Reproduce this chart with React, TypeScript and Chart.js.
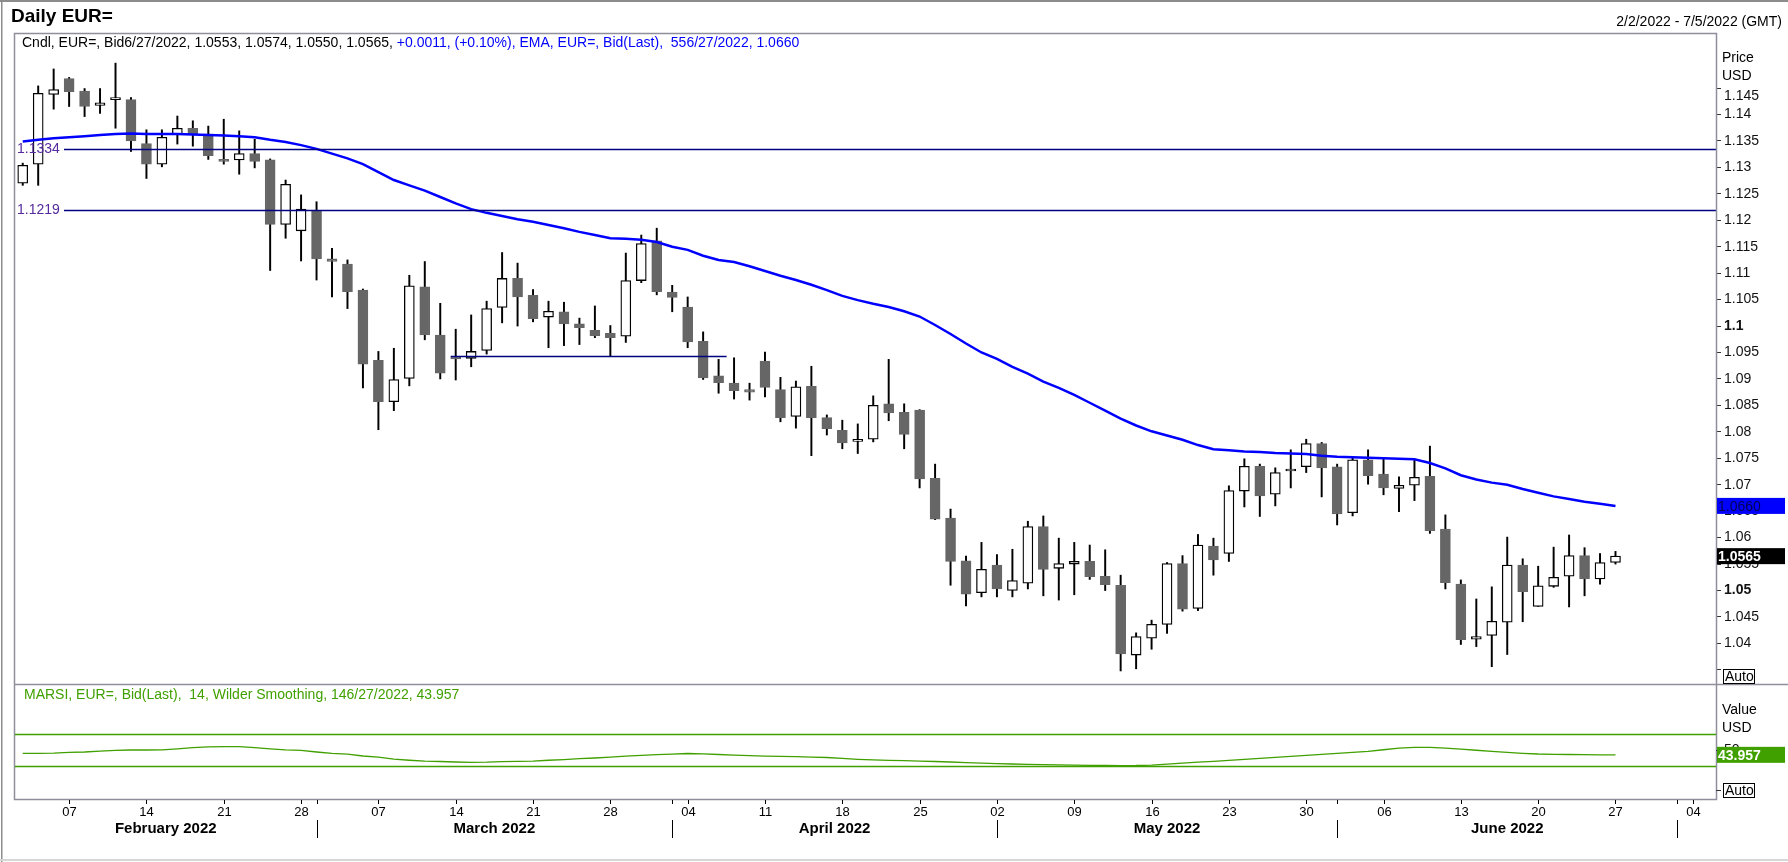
import { useEffect, useRef } from 'react';
import { Chart, registerables } from 'chart.js';

Chart.register(...registerables);

const W = 1788;
const H = 862;
const FONT = 'Arial, "Liberation Sans", sans-serif';

// layout of the panels (pixels)
const PLOT_LEFT = 15;
const PLOT_TOP = 33;
const SPLIT_Y = 684;
const PLOT_BOTTOM = 799;
const AXIS_W = 72;

// trading days shown on the axis
const dates = [
  '2022-02-02', '2022-02-03', '2022-02-04', '2022-02-07', '2022-02-08', '2022-02-09', '2022-02-10', '2022-02-11',
  '2022-02-14', '2022-02-15', '2022-02-16', '2022-02-17', '2022-02-18', '2022-02-21', '2022-02-22', '2022-02-23',
  '2022-02-24', '2022-02-25', '2022-02-28',
  '2022-03-01', '2022-03-02', '2022-03-03', '2022-03-04', '2022-03-07', '2022-03-08', '2022-03-09', '2022-03-10',
  '2022-03-11', '2022-03-14', '2022-03-15', '2022-03-16', '2022-03-17', '2022-03-18', '2022-03-21', '2022-03-22',
  '2022-03-23', '2022-03-24', '2022-03-25', '2022-03-28', '2022-03-29', '2022-03-30', '2022-03-31',
  '2022-04-01', '2022-04-04', '2022-04-05', '2022-04-06', '2022-04-07', '2022-04-08', '2022-04-11', '2022-04-12',
  '2022-04-13', '2022-04-14', '2022-04-15', '2022-04-18', '2022-04-19', '2022-04-20', '2022-04-21', '2022-04-22',
  '2022-04-25', '2022-04-26', '2022-04-27', '2022-04-28', '2022-04-29',
  '2022-05-02', '2022-05-03', '2022-05-04', '2022-05-05', '2022-05-06', '2022-05-09', '2022-05-10', '2022-05-11',
  '2022-05-12', '2022-05-13', '2022-05-16', '2022-05-17', '2022-05-18', '2022-05-19', '2022-05-20', '2022-05-23',
  '2022-05-24', '2022-05-25', '2022-05-26', '2022-05-27', '2022-05-30', '2022-05-31',
  '2022-06-01', '2022-06-02', '2022-06-03', '2022-06-06', '2022-06-07', '2022-06-08', '2022-06-09', '2022-06-10',
  '2022-06-13', '2022-06-14', '2022-06-15', '2022-06-16', '2022-06-17', '2022-06-20', '2022-06-21', '2022-06-22',
  '2022-06-23', '2022-06-24', '2022-06-27', '2022-06-28', '2022-06-29', '2022-06-30',
  '2022-07-01', '2022-07-04', '2022-07-05',
];

const opens = [
  1.1270, 1.1306, 1.1438, 1.1468, 1.1444, 1.1417, 1.1428, 1.1428, 1.1345, 1.1306,
  1.1363, 1.1374, 1.1363, 1.1315, 1.1314, 1.1326, 1.1314, 1.1192, 1.1180, 1.1217,
  1.1127, 1.1117, 1.1068, 1.0935, 1.0857, 1.0901, 1.1074, 1.0983, 1.0942, 1.0939,
  1.0954, 1.1035, 1.1090, 1.1058, 1.1017, 1.1027, 1.1004, 1.0992, 1.0986, 1.0981,
  1.1086, 1.1161, 1.1064, 1.1036, 1.0971, 1.0906, 1.0892, 1.0880, 1.0934, 1.0880,
  1.0829, 1.0886, 1.0827, 1.0803, 1.0782, 1.0786, 1.0853, 1.0837, 1.0841, 1.0712,
  1.0637, 1.0556, 1.0496, 1.0548, 1.0500, 1.0514, 1.0621, 1.0542, 1.0550, 1.0555,
  1.0527, 1.0510, 1.0378, 1.0410, 1.0436, 1.0551, 1.0466, 1.0584, 1.0570, 1.0688,
  1.0735, 1.0682, 1.0726, 1.0734, 1.0778, 1.0734, 1.0647, 1.0747, 1.0720, 1.0693,
  1.0699, 1.0716, 1.0616, 1.0512, 1.0408, 1.0415, 1.0440, 1.0548, 1.0470, 1.0508,
  1.0527, 1.0566, 1.0522, 1.0553,
];

const highs = [
  1.1308, 1.1454, 1.1486, 1.1470, 1.1449, 1.1449, 1.1497, 1.1432, 1.1371, 1.1371,
  1.1397, 1.1388, 1.1378, 1.1391, 1.1369, 1.1353, 1.1316, 1.1276, 1.1248, 1.1235,
  1.1147, 1.1125, 1.1070, 1.0952, 1.0958, 1.1096, 1.1122, 1.1043, 1.0994, 1.1021,
  1.1047, 1.1139, 1.1119, 1.1069, 1.1047, 1.1045, 1.1015, 1.1038, 1.1001, 1.1138,
  1.1172, 1.1185, 1.1077, 1.1055, 1.0989, 1.0937, 1.0940, 1.0892, 1.0951, 1.0903,
  1.0896, 1.0924, 1.0832, 1.0822, 1.0815, 1.0868, 1.0937, 1.0853, 1.0842, 1.0739,
  1.0654, 1.0565, 1.0591, 1.0568, 1.0578, 1.0631, 1.0641, 1.0599, 1.0591, 1.0586,
  1.0577, 1.0529, 1.0420, 1.0444, 1.0553, 1.0566, 1.0606, 1.0599, 1.0698, 1.0749,
  1.0739, 1.0732, 1.0766, 1.0786, 1.0780, 1.0739, 1.0753, 1.0766, 1.0750, 1.0715,
  1.0747, 1.0773, 1.0643, 1.0520, 1.0484, 1.0507, 1.0601, 1.0560, 1.0546, 1.0582,
  1.0605, 1.0581, 1.0570, 1.0574,
];

const lows = [
  1.1266, 1.1266, 1.1410, 1.1415, 1.1396, 1.1402, 1.1374, 1.1330, 1.1279, 1.1301,
  1.1344, 1.1340, 1.1315, 1.1306, 1.1287, 1.1299, 1.1105, 1.1166, 1.1123, 1.1087,
  1.1055, 1.1033, 1.0883, 1.0804, 1.0840, 1.0887, 1.0974, 1.0900, 1.0898, 1.0923,
  1.0947, 1.1006, 1.1000, 1.1008, 1.0959, 1.0963, 1.0965, 1.0978, 1.0943, 1.0969,
  1.1082, 1.1059, 1.1027, 1.0959, 1.0899, 1.0873, 1.0862, 1.0860, 1.0866, 1.0819,
  1.0807, 1.0755, 1.0794, 1.0768, 1.0759, 1.0781, 1.0821, 1.0768, 1.0694, 1.0634,
  1.0510, 1.0471, 1.0488, 1.0488, 1.0488, 1.0503, 1.0490, 1.0482, 1.0492, 1.0521,
  1.0500, 1.0348, 1.0352, 1.0389, 1.0419, 1.0461, 1.0462, 1.0529, 1.0555, 1.0658,
  1.0640, 1.0660, 1.0694, 1.0723, 1.0677, 1.0624, 1.0641, 1.0701, 1.0681, 1.0649,
  1.0670, 1.0608, 1.0503, 1.0398, 1.0394, 1.0356, 1.0379, 1.0441, 1.0470, 1.0506,
  1.0469, 1.0490, 1.0512, 1.0550,
];

const closes = [
  1.1304, 1.1440, 1.1447, 1.1443, 1.1415, 1.1422, 1.1429, 1.1350, 1.1306, 1.1357,
  1.1374, 1.1363, 1.1322, 1.1311, 1.1326, 1.1311, 1.1192, 1.1268, 1.1221, 1.1127,
  1.1122, 1.1065, 1.0928, 1.0857, 1.0899, 1.1076, 1.0983, 1.0911, 1.0938, 1.0952,
  1.1033, 1.1090, 1.1055, 1.1014, 1.1028, 1.1004, 1.0997, 1.0982, 1.0978, 1.1086,
  1.1156, 1.1065, 1.1054, 1.0970, 1.0902, 1.0893, 1.0878, 1.0875, 1.0884, 1.0827,
  1.0885, 1.0827, 1.0806, 1.0779, 1.0786, 1.0850, 1.0836, 1.0795, 1.0711, 1.0635,
  1.0555, 1.0493, 1.0540, 1.0503, 1.0519, 1.0621, 1.0540, 1.0551, 1.0555, 1.0526,
  1.0511, 1.0380, 1.0413, 1.0436, 1.0551, 1.0465, 1.0586, 1.0558, 1.0689, 1.0735,
  1.0679, 1.0723, 1.0727, 1.0778, 1.0732, 1.0645, 1.0747, 1.0717, 1.0694, 1.0699,
  1.0714, 1.0613, 1.0515, 1.0407, 1.0413, 1.0442, 1.0548, 1.0498, 1.0509, 1.0525,
  1.0566, 1.0522, 1.0553, 1.0565,
];

// 55-day EMA
const emaValues = [
  1.1349, 1.1352, 1.1355, 1.1357, 1.1359, 1.1361, 1.1363, 1.1364, 1.1363, 1.1363,
  1.1363, 1.1362, 1.1361, 1.1360, 1.1359, 1.1357, 1.1352, 1.1348, 1.1342, 1.1335,
  1.1326, 1.1317, 1.1306, 1.1291, 1.1276, 1.1266, 1.1256, 1.1244, 1.1232, 1.1221,
  1.1214, 1.1208, 1.1202, 1.1197, 1.1191, 1.1185, 1.1178, 1.1172, 1.1166, 1.1165,
  1.1163, 1.1159, 1.1150, 1.1144, 1.1133, 1.1125, 1.1121, 1.1113, 1.1104, 1.1095,
  1.1087, 1.1078, 1.1068, 1.1057, 1.1049, 1.1042, 1.1036, 1.1028, 1.1018, 1.1002,
  1.0985, 1.0967, 1.0950, 1.0938, 1.0923, 1.0910, 1.0895, 1.0883, 1.0870, 1.0855,
  1.0840, 1.0825, 1.0812, 1.0801, 1.0793, 1.0785, 1.0775, 1.0767, 1.0765, 1.0763,
  1.0762, 1.0760, 1.0759, 1.0758, 1.0755, 1.0753, 1.0752, 1.0751, 1.0750, 1.0749,
  1.0748, 1.0741, 1.0731, 1.0718, 1.0710, 1.0704, 1.0700, 1.0692, 1.0685, 1.0678,
  1.0673, 1.0668, 1.0664, 1.0660,
];

// MA RSI (14, Wilder)
const rsiValues = [
  45.9, 45.9, 46.2, 47.0, 47.5, 48.5, 49.5, 50.0, 50.0, 50.2,
  51.5, 53.0, 54.0, 54.2, 54.2, 53.0, 51.5, 50.2, 49.5, 47.5,
  45.8, 44.8, 42.5, 41.0, 38.5, 37.2, 36.0, 35.6, 35.0, 34.6,
  34.8, 35.5, 35.8, 36.2, 37.2, 38.0, 39.2, 40.0, 41.2, 42.4,
  43.3, 44.2, 44.8, 45.6, 45.2, 44.4, 43.6, 43.0, 42.4, 42.1,
  41.8, 41.1, 40.6, 39.6, 38.4, 37.6, 37.1, 36.8, 36.1, 35.6,
  35.0, 34.3, 33.6, 33.0, 32.5, 32.0, 31.6, 31.3, 31.0, 30.8,
  30.6, 30.5, 30.6, 31.2, 32.3, 33.6, 34.9, 35.9, 37.1, 38.3,
  39.6, 40.8, 42.1, 43.3, 44.6, 45.8, 47.1, 48.4, 50.3, 52.4,
  53.3, 53.4, 52.4, 51.0, 49.7, 48.4, 47.1, 45.9, 45.0, 44.6,
  44.4, 44.2, 44.0, 43.957,
];

const priceTicks = [
  1.035, 1.04, 1.045, 1.05, 1.055, 1.06, 1.065, 1.07, 1.075, 1.08, 1.085, 1.09,
  1.095, 1.1, 1.105, 1.11, 1.115, 1.12, 1.125, 1.13, 1.135, 1.14, 1.145,
];
const boldTicks = [1.05, 1.1];
const priceRange = [1.03233, 1.1554];
const rsiTicks = [0, 50];
const rsiBands = [70, 30];
const rsiRange = [-11.25, 132.5];
const levelLines = [1.1334, 1.1219];
const shortLevel = 1.0943;
const shortLevelDates = ['2022-03-14', '2022-04-06'];
const monthNames = [
  'January', 'February', 'March', 'April', 'May', 'June',
  'July', 'August', 'September', 'October', 'November', 'December',
];

const TITLE = 'Daily EUR=';
const RANGE_TEXT = '2/2/2022 - 7/5/2022 (GMT)';
const LEGEND_BLACK = 'Cndl, EUR=, Bid6/27/2022, 1.0553, 1.0574, 1.0550, 1.0565, ';
const LEGEND_BLUE = '+0.0011, (+0.10%), EMA, EUR=, Bid(Last),  556/27/2022, 1.0660';
const RSI_LEGEND = 'MARSI, EUR=, Bid(Last),  14, Wilder Smoothing, 146/27/2022, 43.957';

const GREEN = '#40a000';
const FRAME = '#8e8e9c';

function txt(c: CanvasRenderingContext2D, s: string, x: number, y: number, font: string, color: string, align: CanvasTextAlign = 'left') {
  c.font = font;
  c.fillStyle = color;
  c.textAlign = align;
  c.textBaseline = 'middle';
  c.fillText(s, x, y);
}

function hline(c: CanvasRenderingContext2D, x0: number, x1: number, y: number) {
  c.beginPath();
  c.moveTo(x0, y);
  c.lineTo(x1, y);
  c.stroke();
}

function vline(c: CanvasRenderingContext2D, x: number, y0: number, y1: number) {
  c.beginPath();
  c.moveTo(x, y0);
  c.lineTo(x, y1);
  c.stroke();
}

const pricePlugin = {
  id: 'priceDecor',
  beforeDraw(chart: any) {
    const c = chart.ctx;
    c.save();
    c.fillStyle = '#ffffff';
    c.fillRect(0, 0, W, H);
    c.restore();
  },
  afterDatasetsDraw(chart: any) {
    const c = chart.ctx;
    const xs = chart.scales.x;
    const ys = chart.scales.y;
    const a = chart.chartArea;
    c.save();
    c.strokeStyle = '#000080';
    c.lineWidth = 1.3;
    levelLines.forEach((v) => {
      const y = Math.round(ys.getPixelForValue(v)) + 0.5;
      hline(c, a.left + 49, a.right, y);
      txt(c, v.toFixed(4), a.left + 2, y, `14px ${FONT}`, '#552a9e');
    });
    const x0 = xs.getPixelForValue(dates.indexOf(shortLevelDates[0])) - 5;
    const x1 = xs.getPixelForValue(dates.indexOf(shortLevelDates[1])) + 8;
    hline(c, x0, x1, Math.round(ys.getPixelForValue(shortLevel)) + 0.5);
    c.restore();
  },
  afterDraw(chart: any) {
    const c = chart.ctx;
    const ys = chart.scales.y;
    const right = W - AXIS_W;
    c.save();
    // outer frame
    c.fillStyle = '#8c8c8c';
    c.fillRect(0, 0, W, 2);
    c.fillRect(1, 0, 1.5, H);
    c.fillStyle = '#d6d6d6';
    c.fillRect(0, H - 3, W, 2);
    // panels
    c.strokeStyle = FRAME;
    c.lineWidth = 1.5;
    c.strokeRect(PLOT_LEFT - 0.5, PLOT_TOP + 0.5, right - PLOT_LEFT + 1, PLOT_BOTTOM - PLOT_TOP);
    hline(c, PLOT_LEFT, W, SPLIT_Y + 0.5);

    txt(c, TITLE, 11, 17, `bold 19px ${FONT}`, '#000');
    txt(c, RANGE_TEXT, W - 6, 22, `14px ${FONT}`, '#000', 'right');

    c.font = `14px ${FONT}`;
    const wBlack = c.measureText(LEGEND_BLACK).width;
    txt(c, LEGEND_BLACK, 22, 43, `14px ${FONT}`, '#000');
    txt(c, LEGEND_BLUE, 22 + wBlack, 43, `14px ${FONT}`, '#0000ff');

    txt(c, 'Price', right + 6, 58, `14px ${FONT}`, '#000');
    txt(c, 'USD', right + 6, 76, `14px ${FONT}`, '#000');

    // top tick label sits a little below its tick, under the header
    const topTick = priceTicks[priceTicks.length - 1];
    txt(c, String(topTick), right + 8, ys.getPixelForValue(topTick) + 8, `14px ${FONT}`, '#111');

    // last value boxes
    const yEma = ys.getPixelForValue(emaValues[emaValues.length - 1]);
    c.fillStyle = '#0000ff';
    c.fillRect(right + 1, yEma - 8, 68, 16);
    txt(c, emaValues[emaValues.length - 1].toFixed(4), right + 2, yEma + 1, `14px ${FONT}`, '#000050');

    const yClose = ys.getPixelForValue(closes[closes.length - 1]);
    c.fillStyle = '#000000';
    c.fillRect(right + 1, yClose - 8, 68, 16);
    txt(c, closes[closes.length - 1].toFixed(4), right + 2, yClose + 1, `bold 14px ${FONT}`, '#ffffff');

    // Auto box
    const yAuto = Math.round(ys.getPixelForValue(priceTicks[0]));
    c.fillStyle = '#ffffff';
    c.fillRect(right + 7, yAuto - 1, 31, 15);
    c.strokeStyle = '#000';
    c.lineWidth = 1;
    c.strokeRect(right + 7.5, yAuto - 0.5, 31, 14);
    txt(c, 'Auto', right + 9, yAuto + 7, `14px ${FONT}`, '#000');
    c.restore();
  },
};

const rsiPlugin = {
  id: 'rsiDecor',
  beforeDatasetsDraw(chart: any) {
    const c = chart.ctx;
    const ys = chart.scales.y;
    const a = chart.chartArea;
    c.save();
    c.strokeStyle = GREEN;
    c.lineWidth = 1.5;
    rsiBands.forEach((v) => hline(c, a.left, a.right, Math.round(ys.getPixelForValue(v)) + 0.5));
    c.restore();
  },
  afterDraw(chart: any) {
    const c = chart.ctx;
    const xs = chart.scales.x;
    const ys = chart.scales.y;
    const a = chart.chartArea;
    const right = W - AXIS_W;
    c.save();
    txt(c, RSI_LEGEND, 24, 695, `14px ${FONT}`, GREEN);
    txt(c, 'Value', right + 6, 710, `14px ${FONT}`, '#000');
    txt(c, 'USD', right + 6, 728, `14px ${FONT}`, '#000');

    const last = rsiValues[rsiValues.length - 1];
    const yLast = ys.getPixelForValue(last);
    c.fillStyle = GREEN;
    c.fillRect(right + 1, yLast - 8, 68, 16);
    txt(c, last.toFixed(3), right + 2, yLast + 1, `bold 14px ${FONT}`, '#ffffff');

    const yAuto = Math.round(ys.getPixelForValue(rsiTicks[0]));
    c.fillStyle = '#ffffff';
    c.fillRect(right + 7, yAuto - 7, 31, 15);
    c.strokeStyle = '#000';
    c.lineWidth = 1;
    c.strokeRect(right + 7.5, yAuto - 6.5, 31, 14);
    txt(c, 'Auto', right + 9, yAuto + 1, `14px ${FONT}`, '#000');

    // date axis
    const starts: number[] = [];
    c.strokeStyle = '#000';
    c.lineWidth = 1;
    dates.forEach((d, i) => {
      const isMonday = new Date(d + 'T00:00:00Z').getUTCDay() === 1;
      const monthStart = i === 0 || d.slice(5, 7) !== dates[i - 1].slice(5, 7);
      if (monthStart) starts.push(i);
      const x = Math.round(xs.getPixelForValue(i)) + 0.5;
      if (isMonday || (monthStart && i > 0)) vline(c, x, PLOT_BOTTOM + 1, PLOT_BOTTOM + 5);
      if (isMonday) txt(c, d.slice(8), x, 812, `13px ${FONT}`, '#000', 'center');
      if (monthStart && i > 0) vline(c, x, 820, 838);
    });
    starts.forEach((s, k) => {
      const left = k === 0 ? a.left : xs.getPixelForValue(s);
      const rightEdge = k + 1 < starts.length ? xs.getPixelForValue(starts[k + 1]) : a.right;
      if (rightEdge - left < 120) return;
      const label = `${monthNames[Number(dates[s].slice(5, 7)) - 1]} ${dates[s].slice(0, 4)}`;
      txt(c, label, (left + rightEdge) / 2, 829, `bold 15px ${FONT}`, '#000', 'center');
    });
    c.restore();
  },
};

export default function App() {
  const priceRef = useRef<HTMLCanvasElement | null>(null);
  const rsiRef = useRef<HTMLCanvasElement | null>(null);

  useEffect(() => {
    document.body.style.margin = '0';
    if (!priceRef.current || !rsiRef.current) return;

    const up = opens.map((o, i) => closes[i] >= o);

    const priceChart = new Chart(priceRef.current, {
      type: 'bar',
      data: {
        labels: dates,
        datasets: [
          {
            type: 'line',
            label: 'EMA',
            data: emaValues,
            borderColor: '#0000ff',
            borderWidth: 2.5,
            pointRadius: 0,
            fill: false,
            order: 0,
          } as any,
          {
            type: 'bar',
            label: 'Body',
            data: opens.map((o, i) => [o, closes[i]]),
            backgroundColor: up.map((u) => (u ? '#ffffff' : '#666666')),
            borderColor: up.map((u) => (u ? '#000000' : '#666666')),
            borderWidth: 1.3,
            borderSkipped: false,
            barThickness: 10,
            minBarLength: 2,
            grouped: false,
            order: 1,
          } as any,
          {
            type: 'bar',
            label: 'Wick',
            data: lows.map((l, i) => [l, highs[i]]),
            backgroundColor: '#000000',
            borderWidth: 0,
            barThickness: 1.3,
            grouped: false,
            order: 2,
          } as any,
        ],
      },
      options: {
        responsive: false,
        animation: false,
        events: [],
        layout: { padding: { left: PLOT_LEFT, top: PLOT_TOP, right: 0, bottom: H - SPLIT_Y } },
        plugins: { legend: { display: false }, tooltip: { enabled: false } },
        scales: {
          x: { type: 'category', display: false, offset: true },
          y: {
            position: 'right',
            min: priceRange[0],
            max: priceRange[1],
            afterFit: (s: any) => { s.width = AXIS_W; },
            afterBuildTicks: (s: any) => { s.ticks = priceTicks.map((v) => ({ value: v })); },
            border: { display: false },
            grid: { drawOnChartArea: false, drawTicks: true, tickLength: 5, color: '#333', lineWidth: 1 },
            ticks: {
              autoSkip: false,
              padding: 3,
              color: '#111',
              font: (ctx: any) => ({
                family: FONT,
                size: 14,
                weight: ctx.tick && boldTicks.includes(ctx.tick.value) ? 'bold' : 'normal',
              }),
              callback: (v: any) =>
                v === priceTicks[0] || v === priceTicks[priceTicks.length - 1] ? '' : String(v),
            },
          },
        },
      } as any,
      plugins: [pricePlugin],
    });

    const rsiChart = new Chart(rsiRef.current, {
      type: 'line',
      data: {
        labels: dates,
        datasets: [
          {
            label: 'MARSI',
            data: rsiValues,
            borderColor: GREEN,
            borderWidth: 1.3,
            pointRadius: 0,
            fill: false,
          },
        ],
      },
      options: {
        responsive: false,
        animation: false,
        events: [],
        layout: { padding: { left: PLOT_LEFT, top: SPLIT_Y, right: 0, bottom: H - PLOT_BOTTOM } },
        plugins: { legend: { display: false }, tooltip: { enabled: false } },
        scales: {
          x: { type: 'category', display: false, offset: true },
          y: {
            position: 'right',
            min: rsiRange[0],
            max: rsiRange[1],
            afterFit: (s: any) => { s.width = AXIS_W; },
            afterBuildTicks: (s: any) => { s.ticks = rsiTicks.map((v) => ({ value: v })); },
            border: { display: false },
            grid: { drawOnChartArea: false, drawTicks: true, tickLength: 5, color: '#333', lineWidth: 1 },
            ticks: {
              autoSkip: false,
              padding: 3,
              color: '#111',
              font: { family: FONT, size: 14 },
              callback: (v: any) => (v === rsiTicks[0] ? '' : String(v)),
            },
          },
        },
      } as any,
      plugins: [rsiPlugin],
    });

    return () => {
      priceChart.destroy();
      rsiChart.destroy();
    };
  }, []);

  return (
    <div style={{ position: 'relative', width: W, height: H, overflow: 'hidden', background: '#fff' }}>
      <canvas ref={priceRef} width={W} height={H} style={{ position: 'absolute', left: 0, top: 0 }} />
      <canvas ref={rsiRef} width={W} height={H} style={{ position: 'absolute', left: 0, top: 0 }} />
    </div>
  );
}
